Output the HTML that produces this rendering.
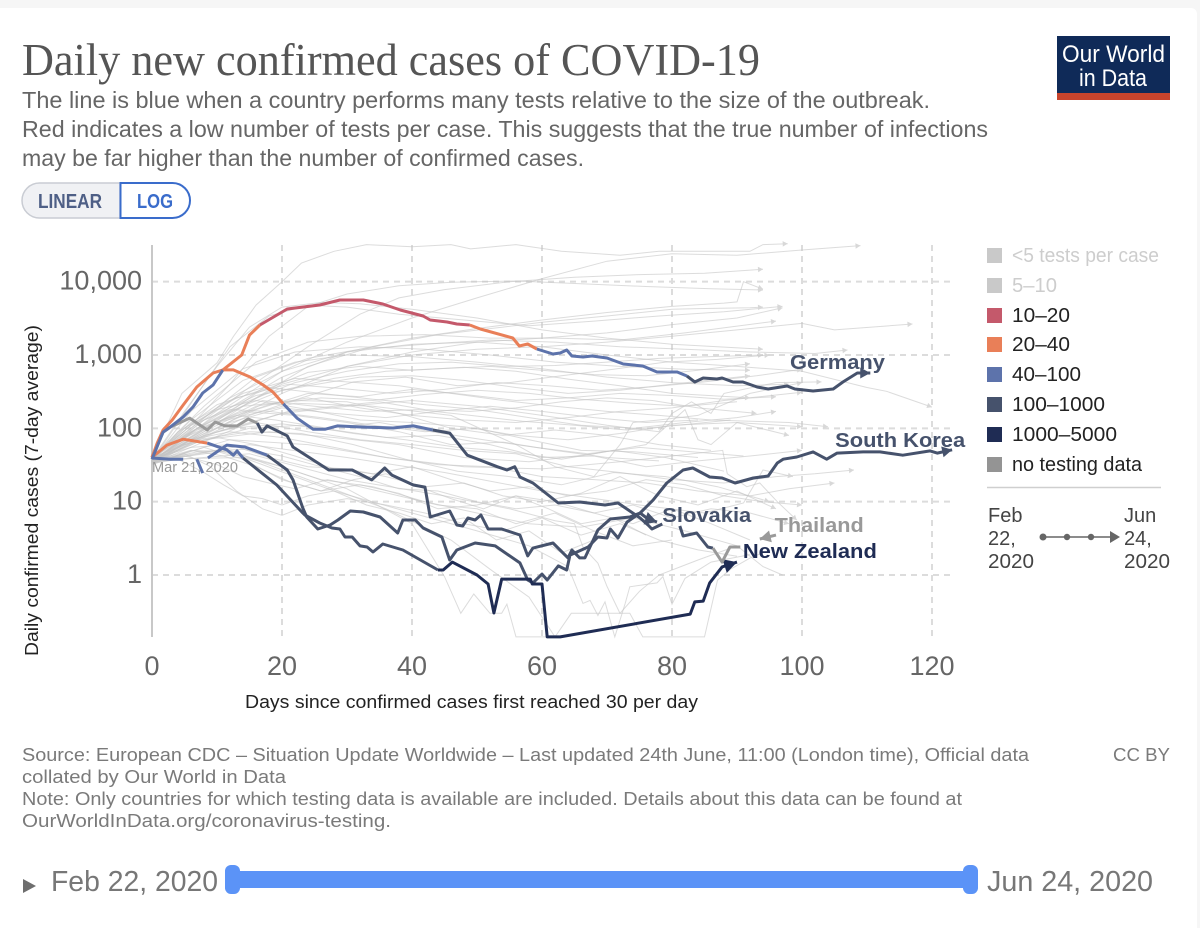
<!DOCTYPE html>
<html lang="en">
<head>
<meta charset="utf-8">
<title>Daily new confirmed cases of COVID-19</title>
<style>
html,body{margin:0;padding:0;background:#f6f6f6;}
svg{display:block;}
text{font-family:"Liberation Sans",sans-serif;}
.serif{font-family:"Liberation Serif",serif;}
.grid{stroke:#dcdcdc;stroke-width:2;stroke-dasharray:6 5;fill:none;}
.leg{font-size:20px;fill:#222;}
.foot{font-size:18px;fill:#7a7a7a;}
.sub{font-size:23px;fill:#666;}
</style>
</head>
<body>
<svg id="chart" xmlns="http://www.w3.org/2000/svg" width="1200" height="928" viewBox="0 0 1200 928">
<rect x="-10" y="8" width="1207" height="930" rx="6" fill="#ffffff"/>

<text class="serif" x="22" y="75" font-size="45" fill="#555" textLength="738" lengthAdjust="spacingAndGlyphs">Daily new confirmed cases of COVID-19</text>
<text class="sub" x="22" y="108" textLength="908" lengthAdjust="spacingAndGlyphs">The line is blue when a country performs many tests relative to the size of the outbreak.</text>
<text class="sub" x="22" y="137" textLength="966" lengthAdjust="spacingAndGlyphs">Red indicates a low number of tests per case. This suggests that the true number of infections</text>
<text class="sub" x="22" y="166" textLength="562" lengthAdjust="spacingAndGlyphs">may be far higher than the number of confirmed cases.</text>

<g>
<path d="M120 183 H39.5 A17.5 17.5 0 0 0 39.5 218 H120 Z" fill="#f0f1f4" stroke="#c9ccd3" stroke-width="1.5"/>
<text x="38" y="208" font-size="20" font-weight="700" fill="#4e5f86" textLength="64" lengthAdjust="spacingAndGlyphs">LINEAR</text>
<path d="M120.5 183 H172.5 A17.5 17.5 0 0 1 172.5 218 H120.5 Z" fill="#fff" stroke="#3a6ccb" stroke-width="2"/>
<text x="137" y="208" font-size="20" font-weight="700" fill="#3a6ccb" textLength="36" lengthAdjust="spacingAndGlyphs">LOG</text>
</g>

<g>
<rect x="1057" y="36" width="113" height="64" fill="#0f2a58"/>
<rect x="1057" y="93" width="113" height="7" fill="#c8442c"/>
<text x="1062" y="62" font-size="24" fill="#fff" textLength="103" lengthAdjust="spacingAndGlyphs">Our World</text>
<text x="1079" y="86" font-size="24" fill="#fff" textLength="68" lengthAdjust="spacingAndGlyphs">in Data</text>
</g>

<g id="plot"></g>

<text x="245" y="708" font-size="18.5" fill="#222" textLength="453" lengthAdjust="spacingAndGlyphs">Days since confirmed cases first reached 30 per day</text>
<text transform="translate(38,656) rotate(-90)" x="0" y="0" font-size="18.5" fill="#222" textLength="331" lengthAdjust="spacingAndGlyphs">Daily confirmed cases (7-day average)</text>

<g>
<rect x="987" y="248" width="15" height="15" fill="#c9c9c9"/>
<text class="leg" style="fill:#cdcdcd" x="1012" y="262" textLength="147" lengthAdjust="spacingAndGlyphs">&lt;5 tests per case</text>
<rect x="987" y="278" width="15" height="15" fill="#c9c9c9"/>
<text class="leg" style="fill:#cdcdcd" x="1012" y="292" textLength="45" lengthAdjust="spacingAndGlyphs">5–10</text>
<rect x="987" y="308" width="15" height="15" fill="#c4596b"/>
<text class="leg" x="1012" y="322" textLength="58" lengthAdjust="spacingAndGlyphs">10–20</text>
<rect x="987" y="337" width="15" height="15" fill="#e97f58"/>
<text class="leg" x="1012" y="351" textLength="58" lengthAdjust="spacingAndGlyphs">20–40</text>
<rect x="987" y="367" width="15" height="15" fill="#5d73ab"/>
<text class="leg" x="1012" y="381" textLength="69" lengthAdjust="spacingAndGlyphs">40–100</text>
<rect x="987" y="397" width="15" height="15" fill="#46526c"/>
<text class="leg" x="1012" y="411" textLength="93" lengthAdjust="spacingAndGlyphs">100–1000</text>
<rect x="987" y="427" width="15" height="15" fill="#1f2c54"/>
<text class="leg" x="1012" y="441" textLength="105" lengthAdjust="spacingAndGlyphs">1000–5000</text>
<rect x="987" y="457" width="15" height="15" fill="#949494"/>
<text class="leg" x="1012" y="471" textLength="130" lengthAdjust="spacingAndGlyphs">no testing data</text>
<line x1="987" y1="487.5" x2="1161" y2="487.5" stroke="#cfcfcf" stroke-width="1.5"/>
</g>

<g>
<text class="leg" style="fill:#444" x="988" y="522">Feb</text>
<text class="leg" style="fill:#444" x="988" y="545">22,</text>
<text class="leg" style="fill:#444" x="988" y="568" textLength="46" lengthAdjust="spacingAndGlyphs">2020</text>
<text class="leg" style="fill:#444" x="1124" y="522">Jun</text>
<text class="leg" style="fill:#444" x="1124" y="545">24,</text>
<text class="leg" style="fill:#444" x="1124" y="568" textLength="46" lengthAdjust="spacingAndGlyphs">2020</text>
<line x1="1043" y1="537" x2="1112" y2="537" stroke="#666" stroke-width="1.5"/>
<circle cx="1043" cy="537" r="3.5" fill="#666"/>
<circle cx="1067" cy="537" r="3.2" fill="#666"/>
<circle cx="1091" cy="537" r="3.2" fill="#666"/>
<path d="M1110 531 L1120 537 L1110 543 Z" fill="#666"/>
</g>

<g>
<text class="foot" x="22" y="761" textLength="1007" lengthAdjust="spacingAndGlyphs">Source: European CDC – Situation Update Worldwide – Last updated 24th June, 11:00 (London time), Official data</text>
<text class="foot" x="22" y="783" textLength="264" lengthAdjust="spacingAndGlyphs">collated by Our World in Data</text>
<text class="foot" x="22" y="805" textLength="940" lengthAdjust="spacingAndGlyphs">Note: Only countries for which testing data is available are included. Details about this data can be found at</text>
<text class="foot" x="22" y="827" textLength="369" lengthAdjust="spacingAndGlyphs">OurWorldInData.org/coronavirus-testing.</text>
<text class="foot" x="1113" y="761" textLength="57" lengthAdjust="spacingAndGlyphs">CC BY</text>
</g>

<g>
<path d="M23 879 L36 886 L23 893 Z" fill="#6e6e6e"/>
<text x="51" y="891" font-size="29" fill="#777" textLength="167" lengthAdjust="spacingAndGlyphs">Feb 22, 2020</text>
<rect x="232" y="871" width="738" height="17" fill="#5b93f7"/>
<rect x="225" y="865" width="15" height="29" rx="6" fill="#5b93f7"/>
<rect x="963" y="865" width="15" height="29" rx="6" fill="#5b93f7"/>
<text x="987" y="891" font-size="29" fill="#777" textLength="166" lengthAdjust="spacingAndGlyphs">Jun 24, 2020</text>
</g>
</svg>

<script>
// ---------- tick data ----------
const xTicks = [0, 20, 40, 60, 80, 100, 120];
const yTicks = [1, 10, 100, 1000, 10000];
const yTickLabels = ['1', '10', '100', '1,000', '10,000'];

// ---------- highlighted countries ----------
const germanyDays = [0,1.7,2.8,4.8,6.3,7.8,9.4,10.9,13.8,15,16.6,20.8,25.8,28.9,32.5,35.5,38.2,41.7,42.8,45.4,46.9,48.9,50.5,55.5,56.5,57.8,59.2,61.7,62.8,63.8,64.6,66.3,67.7,70,72.5,75.5,77.7,80.8,82.3,83.5,84.8,86.9,87.7,89.4,90.9,93.1,94.8,97.7,98.9,101.7,104.8,106.3,108.5,110.5];
const germanyCases = [38,89,104,143,195,303,391,626,1000,1870,2565,4240,4806,5620,5620,4960,4108,3400,3000,2820,2650,2565,2262,1706,1327,1413,1207,1032,1065,1170,969,939,969,910,754,708,586,586,517,428,486,471,486,428,428,366,344,378,344,323,344,428,568,568];
const germanyBandEnds = [10.9,16.6,48.9,59.2,82.3,999];
const germanyBands = ['40-100','20-40','10-20','20-40','40-100','100-1000'];

const thailandDays = [0,0.8,1.7,3.1,4.8,6.9,9.4,10.9,12.5,15.1,17.1,18.6,20.2,22.3,24.8,26.6,28.5,32.5,37.1,38.2,40.2,43.2,45.8,48.5,53.1,54.6,55.8,56.6,58.6,62.5,65.8,69.7,71.7,75.1,76.3,76.9,78.5,79.5,81.2,81.7,83.8,85.5,86.3,87.7,88.9,90.5,92,96,93.5];
const thailandCases = [40,63,95,130,208,366,568,626,626,502,390,313,216,138,97,97,108,104,101,104,108,95,86,43,30,27,30,21.7,18,9.6,9.9,9,9.6,5.99,4.8,4.24,4.96,null,4.66,3.4,3.74,2.41,2.33,1.5,2.41,2.41,null,3.5,3.1];
const thailandBandEnds = [20.2,43.2,86.3,999];
const thailandBands = ['20-40','40-100','100-1000','no-data'];

const slovakiaDays = [0,1.7,2.8,5.8,8.5,9.7,11.2,13.1,14.8,16.2,16.9,17.7,20.8,21.7,27.2,30.8,33.8,35.8,36.9,40.2,42,42.8,45.8,46.9,47.8,48.6,49.7,50.6,51.7,53.8,56.6,57.8,58.6,61.7,64,64.6,65.8,66.6,68.6,70.5,73.5,75.1,76.3,77.7];
const slovakiaCases = [40.6,89,104,138,95,122,108,108,134,118,89,108,79,55.6,27,27,19.8,28.8,23,16.9,15.8,6.18,7.46,4.8,4.66,5.99,5.62,6.58,4.24,4.24,3.51,1.82,2.33,2.73,1.71,2.19,1.71,1.71,4.11,5.8,6.18,7,5.8,5.28];
const slovakiaBandEnds = [16.2,999];
const slovakiaBands = ['no-data','100-1000'];

const koreaDays = [0,2.8,4.8,5.8,6.9,7.8,8.2,8.6,11.5,14.3,17.7,20.8,21.7,23.2,23.8,25.5,27.4,28.6,30.5,32.5,35.1,37.8,38.6,40.5,41.7,44.6,45.8,46.9,49.7,52.8,56.6,57.8,58.6,60,60.8,62.5,63.8,64.3,67.1,68.6,70,70.5,71.7,73.1,75.1,77.1,79.2,81.7,83.2,85.8,87.7,89.7,92.5,94.8,96.2,97.1,99.2,101.7,103.8,105.4,109.4,112,115.5,119.7,120.8,123.1];
const koreaCases = [39.4,38,38,null,38,24.5,null,39.4,59,55.6,43,27,19.8,8.2,6.18,4.24,4.8,5.62,7.46,7.23,6.18,3.74,5.62,5.62,4.37,3.3,1.6,2.19,2.73,2.49,1.46,0.855,0.78,1.03,0.855,1.33,1.17,1.87,2.41,3.3,3.2,4.24,3.2,5.28,7,10.5,18,27,28.8,21.7,21,18,21,22.4,33.7,38,40.6,47.7,38,46,47.7,47.7,43,49.3,46,51];
const koreaBandEnds = [17.7,999];
const koreaBands = ['40-100','100-1000'];

const newZealandDays = [0,0.8,2.3,4.8,8.5,11.5,12.5,13.1,14,19.2,23.2,23.5,25.8,27.7,28.9,29.7,30.8,32,33.1,34,35.5,38.6,44,44.8,46.2,50,51.7,52.6,53.8,58.2,58.5,60,60.8,62.8,82.8,83.5,84.8,85.8,87.7,90];
const newZealandCases = [40.6,46,59,71,63,51,43,49.3,39.4,16.9,7,6.58,5.12,4.37,4.24,3.3,3.3,2.49,2.41,2.06,2.65,2.19,1.17,1.17,1.5,1,0.754,0.303,0.88,0.88,0.754,0.754,0.143,0.143,0.293,0.43,0.44,0.78,1.29,1.5];
const newZealandBandEnds = [8.5,14,44,999];
const newZealandBands = ['20-40','40-100','100-1000','1000-5000'];

// ---------- unhighlighted countries ----------
const grayDays = [
[0,4.6,10,12.5,16,20,23,28,33,40,46,49,56,63,72,78,92,94,97.8],
[0,6,12,20,30,40,50,60,70,80,90,100,109],
[0,8,16,24,32,38,45,55,65,75,85,94],
[0,6,12,18,24,30,38,46,56,66,76,86,94],
[0,5,10,15,20,26,32,40,50,60,70,80,94],
[0,4,8,12,18,24,30,38,48,58,68,78,88,97],
[0,8,16,24,34,44,54,60,70,80,84,92,94],
[0,10,20,30,40,50,60,70,80,88,90,91,94],
[0,10,20,30,40,50,60,70,80,90,97],
[0,8,16,24,32,42,52,62,72,82,96],
[0,10,20,30,40,50,60,70,80,90,100,105,117],
[0,8,16,24,32,42,52,62,72,82,92,102,107],
[0,10,20,30,40,50,60,70,80,90,100,110,113,120],
[0,6,14,22,30,38,46,54,62,70,78,86,94],
[0,5,12,20,28,36,44,52,60,68,76,84,92],
[0,7,15,23,31,39,47,55,63,71,79,87,95],
[0,6,13,21,29,37,45,53,61,69,77,85,93,100],
[0,8,16,24,32,40,48,56,64,72,80,88,96],
[0,5,11,18,26,34,42,50,58,66,74,82,90],
[0,7,14,21,28,35,42,49,56,63,70,77,84,93],
[0,6,12,20,28,36,44,52,60,68,76,84],
[0,8,16,24,32,40,48,56,64,72,80,88,100],
[0,6,14,22,30,38,46,54,62,70,78,86,98,104],
[0,5,10,18,26,34,42,50,58,66,74,82,90,96],
[0,9,17,25,33,41,49,57,65,73,81,89],
[0,4,10,16,24,32,40,48,56,64,72,80,90,100],
[0,6,12,18,26,34,42,50,58,66,74,84],
[0,7,13,19,27,35,43,51,59,67,75,83,91],
[0,6,12,20,28,36,44,52,60,68,76,84,92,100],
[0,8,16,24,32,40,48,56,64,72,80,88,96,102,108],
[0,6,12,20,28,36,44,52,60,68,76,84,92,98,105],
[0,5,10,16,22,28,34,40,46,52,58,64,70,76,82,88,94,100],
[0,6,12,18,24,30,36,42,48,54,60,66,72,78,84,90,96],
[0,6,12,18,26,34,42,50,58,66,74,82,90,94,97],
[0,5,9,13,17,20,24,30,36,42,48,54,60,66,72,78,84,90],
[0,4,8,11,14,17,20,24,28,33,38,43,48,53,58,63,68],
[0,5,10,14,18,22,27,32,38,44,50,56,62,68,74,80],
[0,7,14,20,26,32,38,44,50,56,62,68,74,80,86,92],
[0,10,20,30,40,45,47.5,49.5,52,53.8,54.6,56,60,62],
[0,12,24,36,46,52,58,62,64.5,73.5,75.5,85,87,89,92,95],
[0,14,28,40,50,58,64,66.3,67.4,68.6,69.7,71.2,72.8,73.5,77.7,78.6,80,82,86,92],
[0,15,30,45,55,62,65,66.3,68.6,70,72,75,78,84,90],
[0,12,24,36,48,60,72,80,87.8,88.5,91.5,93.5,96.2,99.2],
[0,15,30,45,60,75,85,91,94,98.6],
[0,10,22,34,46,56,62,68,72,74,78,84,92,100],
[0,10,20,30,40,50,60,70,78,80,83,86,88,96,103],
[0,8,18,28,38,48,58,68,76,82,84,86,90,98],
[0,8,14,20,26,32,38,44,50,56,62,68,74,80,86,92,98],
[0,6,11,16,21,26,31,36,41,46,51,56,61,66,71,76],
[0,7,15,23,31,39,47,55,63,71,79,87,95],
[0,7,15,23,31,39,47,55,63,71,79,88],
[0,7,14,22,30,38,46,54,62,70,78],
[0,7,14,22,30,38,46,54,62,70,78,86],
[0,8,16,24,32,40,48,56,64,72,80,92],
[0,8,16,24,32,40,48,56,64,72,80,92],
[0,6,14,22,30,40,50,60,70,80,90,98],
[0,6,14,22,32,42,52,62,72,82,92]
];
const grayCases = [
[40,300,780,1780,4800,10000,18000,26000,32000,30000,32000,28000,32000,26000,23000,26000,26000,32000,33000],
[40,100,260,600,1500,3200,6000,11000,19000,24000,23000,27000,31000],
[35,130,420,1300,3600,6000,7800,10000,11500,12500,13000,14800],
[38,110,400,1800,4600,6800,8800,9800,10200,9400,8600,8000,7700],
[38,170,700,2400,4500,5200,5000,4200,3200,2200,1700,1400,1200],
[36,120,400,1300,3400,4800,4500,3600,3000,2500,2900,3400,3900,4600],
[35,90,260,700,1300,1900,2400,2800,3400,4200,4300,4400,4500],
[40,150,500,1100,1700,2300,3000,3800,4600,5100,5300,10000,7900],
[33,100,300,700,1100,1500,1700,2000,2600,3200,4400],
[40,200,800,1500,1800,1900,1700,1700,1600,2000,2900],
[36,130,400,700,1000,1200,1300,1500,1800,2200,2700,2200,2650],
[38,140,500,900,1200,1400,1600,1500,1300,1200,1100,1050,1170],
[34,160,600,1100,1400,1500,1300,1000,800,700,600,360,320,195],
[35,90,220,420,600,760,800,700,720,800,900,950,1000],
[38,80,170,330,480,600,650,700,620,540,520,620,760],
[32,70,150,260,430,500,380,420,520,640,800,870,1000],
[40,110,260,400,350,300,340,420,380,330,370,430,520,640],
[36,85,180,300,270,340,290,240,260,300,280,250,270],
[35,75,130,210,260,240,290,330,300,250,220,200,230],
[33,60,110,170,200,230,180,170,190,230,260,240,190,160],
[38,70,120,190,160,140,170,200,170,140,120,130],
[35,90,200,260,190,150,130,120,140,170,190,240,310],
[40,120,300,480,430,380,300,240,200,170,150,130,120,105],
[37,100,210,360,300,250,210,180,140,110,100,120,140,170],
[36,110,240,200,170,180,150,125,110,95,110,130],
[34,90,180,240,180,130,120,105,80,70,85,110,120,105],
[39,110,180,170,140,110,90,100,70,50,48,40],
[35,100,150,130,100,120,90,70,55,45,55,48,42],
[33,70,100,115,95,75,80,60,40,42,30,36,42,50],
[36,80,120,90,70,60,50,45,30,25,20,18,22,24,27],
[34,70,90,75,55,40,32,30,22,20,18,14,12,15,18],
[35,60,75,60,42,28,24,30,20,14,16,12,14,20,17,12,10,9],
[38,55,60,40,30,28,22,16,18,12,10,13,22,12,9,14,8],
[32,50,48,34,20,16,10,7,5,4.5,6,4,2.5,1.3,1],
[36,45,30,14,8,6.5,9,11,9,7,5,4,6,3.5,5,3,2.2,1.8],
[33,38,25,17,12,11,9,12,14,9,7,5,6,3,4,2,3],
[37,42,32,22,18,15,20,16,12,9,8,5,7,4,2.5,3],
[35,48,52,42,30,22,15,14,10,8,9,7,5,8,5,3],
[34,50,30,15,5,0.95,0.3,0.55,0.3,0.3,0.4,0.143,0.143,0.143],
[36,50,20,8,3,1.2,0.5,0.143,0.3,0.3,0.143,0.143,0.85,1.2,1.7,2.2],
[38,40,14,7,4,2.5,1.3,0.41,0.45,0.28,0.43,0.143,0.41,0.69,0.78,0.95,0.4,0.9,1.5,1.9],
[35,45,20,12,8,5.5,5,2.4,1.45,0.7,0.3,0.6,1,1.6,2.5],
[34,70,60,40,30,28,35,42,50,24,16,18,10,5.6],
[36,60,40,25,14,9,7,9.6,27,22],
[38,120,220,200,150,60,30,22,60,120,130,150,300,420],
[35,90,160,200,240,200,150,110,90,160,230,160,300,420,430],
[37,70,90,75,60,40,35,45,60,180,70,60,120,80],
[33,55,38,20,14,17,13,8,9,12,10,7,9,6,8,7,5],
[36,50,42,30,19,14,20,24,16,11,8,12,8,5,6,3.5],
[40,70,90,85,60,38,26,22,17,25,22,16,10],
[34,65,100,110,85,70,55,48,38,50,40,26],
[36,95,170,150,120,90,60,65,50,40,36],
[35,100,200,240,230,160,100,80,95,80,60,50],
[38,130,280,380,500,520,450,360,300,330,400,520],
[34,95,300,580,700,620,680,600,470,380,300,260],
[39,130,450,800,1000,950,800,650,500,420,380,400],
[37,170,650,1100,1300,1200,1000,800,700,640,620]
];

// ---------- axis functions ----------
const PX_PER_DAY = 6.5, PX_PER_DECADE = 73.33, X0 = 152, Y1 = 575;
function xScale(d){ return X0 + d * PX_PER_DAY; }
function yScale(v){ return Y1 - Math.log10(v) * PX_PER_DECADE; }

const bandColor = {'10-20':'#c4596b','20-40':'#e97f58','40-100':'#5d73ab','100-1000':'#46526c','1000-5000':'#1f2c54','no-data':'#9a9a9a'};
const NS = 'http://www.w3.org/2000/svg';
const plot = document.getElementById('plot');

// gridlines
xTicks.slice(1).forEach(function(t){
  const l = document.createElementNS(NS,'line');
  
  
  l.setAttribute('class','grid');
  l.setAttribute('x1',xScale(t)); l.setAttribute('x2',xScale(t));
  l.setAttribute('y1',245); l.setAttribute('y2',637);
  plot.appendChild(l);
});
yTicks.forEach(function(t){
  const l = document.createElementNS(NS,'line');
  
  
  l.setAttribute('class','grid');
  l.setAttribute('x1',X0); l.setAttribute('x2',951);
  l.setAttribute('y1',yScale(t)); l.setAttribute('y2',yScale(t));
  plot.appendChild(l);
});
const axisLine = document.createElementNS(NS,'line');


axisLine.setAttribute('x1',X0); axisLine.setAttribute('x2',X0);
axisLine.setAttribute('y1',245); axisLine.setAttribute('y2',637);
axisLine.setAttribute('stroke','#c8c8c8'); axisLine.setAttribute('stroke-width','2');
plot.appendChild(axisLine);

// tick labels
xTicks.forEach(function(t){
  const e = document.createElementNS(NS,'text');
  
  
  e.setAttribute('x',xScale(t)); e.setAttribute('y',675);
  e.setAttribute('text-anchor','middle'); e.setAttribute('font-size','27'); e.setAttribute('fill','#666');
  e.textContent = t;
  plot.appendChild(e);
});
yTicks.forEach(function(t,i){
  const e = document.createElementNS(NS,'text');
  
  
  e.setAttribute('x',142); e.setAttribute('y',yScale(t)+8);
  e.setAttribute('text-anchor','end'); e.setAttribute('font-size','27'); e.setAttribute('fill','#666');
  e.textContent = yTickLabels[i];
  plot.appendChild(e);
});

function arrowHead(days, cases, size){
  let i = days.length - 1, j = i - 1;
  const x1 = xScale(days[i]), y1 = yScale(cases[i]);
  const x0 = xScale(days[j]), y0 = yScale(cases[j]);
  const a = Math.atan2(y1 - y0, x1 - x0), w = size * 0.55;
  const bx = x1 - Math.cos(a) * size, by = y1 - Math.sin(a) * size;
  return 'M' + x1 + ' ' + y1 +
    ' L' + (bx - Math.sin(a) * w) + ' ' + (by + Math.cos(a) * w) +
    ' L' + (bx + Math.sin(a) * w) + ' ' + (by - Math.cos(a) * w) + ' Z';
}

// gray country lines
grayDays.forEach(function(days,k){
  const cases = grayCases[k];
  const d = days.map(function(day,i){ return (i ? 'L' : 'M') + xScale(day).toFixed(1) + ' ' + yScale(cases[i]).toFixed(1); }).join(' ');
  const p = document.createElementNS(NS,'path');
  
  
  p.setAttribute('d',d); p.setAttribute('fill','none');
  p.setAttribute('stroke','#c4c4c4'); p.setAttribute('stroke-width','1'); p.setAttribute('stroke-opacity','0.6');
  plot.appendChild(p);
  if (days[days.length-1] >= 92 && cases[cases.length-1] > 3) {
    const h = document.createElementNS(NS,'path');
    
    
    h.setAttribute('d',arrowHead(days,cases,5)); h.setAttribute('fill','#d8d8d8');
    plot.appendChild(h);
  }
});

// highlighted lines, split by testing band
function bandFor(day, ends, bands){
  for (let i = 0; i < ends.length; i++) { if (day <= ends[i]) return bands[i]; }
  return bands[bands.length-1];
}
function drawSeries(name, days, cases, ends, bands, headSize){
  let cur = null, d = '', lastBand = null;
  function flush(){
    if (!d) return;
    const p = document.createElementNS(NS,'path');
    
    
    p.setAttribute('d',d); p.setAttribute('fill','none');
    p.setAttribute('stroke',bandColor[cur]); p.setAttribute('stroke-width','3');
    p.setAttribute('stroke-linejoin','round'); p.setAttribute('stroke-linecap','butt');
    plot.appendChild(p);
    d = '';
  }
  for (let i = 1; i < days.length; i++) {
    if (cases[i] === null || cases[i-1] === null) { flush(); cur = null; continue; }
    const b = bandFor(days[i], ends, bands);
    if (b !== cur) {
      flush();
      cur = b;
      d = 'M' + xScale(days[i-1]).toFixed(1) + ' ' + yScale(cases[i-1]).toFixed(1);
    }
    d += ' L' + xScale(days[i]).toFixed(1) + ' ' + yScale(cases[i]).toFixed(1);
    lastBand = b;
  }
  flush();
  const h = document.createElementNS(NS,'path');
  
  
  h.setAttribute('d',arrowHead(days,cases,headSize)); h.setAttribute('fill',bandColor[lastBand]);
  plot.appendChild(h);
}
drawSeries('slovakia', slovakiaDays, slovakiaCases, slovakiaBandEnds, slovakiaBands, 12);
drawSeries('south-korea', koreaDays, koreaCases, koreaBandEnds, koreaBands, 10);
drawSeries('new-zealand', newZealandDays, newZealandCases, newZealandBandEnds, newZealandBands, 13);
drawSeries('thailand', thailandDays, thailandCases, thailandBandEnds, thailandBands, 11);
drawSeries('germany', germanyDays, germanyCases, germanyBandEnds, germanyBands, 10);

// country labels
const labelNames = ['Germany','South Korea','Slovakia','Thailand','New Zealand'];
const labelDays = [98.15,105.1,78.5,95.8,90.9];
const labelCases = [645,55.7,5.28,3.86,1.706];
const labelColors = ['#46526c','#46526c','#46526c','#999999','#1f2c54'];
const labelWidths = [95,130,89,89,134];
labelNames.forEach(function(n,i){
  const e = document.createElementNS(NS,'text');
  
  
  e.setAttribute('x',xScale(labelDays[i]));
  e.setAttribute('y',yScale(labelCases[i]));
  e.setAttribute('font-size','20'); e.setAttribute('font-weight','700');
  e.setAttribute('fill',labelColors[i]);
  e.setAttribute('textLength',labelWidths[i]); e.setAttribute('lengthAdjust','spacingAndGlyphs');
  e.textContent = n;
  plot.appendChild(e);
});

const dateLabel = document.createElementNS(NS,'text');


dateLabel.setAttribute('x',152); dateLabel.setAttribute('y',472);
dateLabel.setAttribute('font-size','14.5'); dateLabel.setAttribute('fill','#999');
dateLabel.setAttribute('textLength','86'); dateLabel.setAttribute('lengthAdjust','spacingAndGlyphs');
dateLabel.textContent = 'Mar 21, 2020';
plot.appendChild(dateLabel);
</script>
</body>
</html>
